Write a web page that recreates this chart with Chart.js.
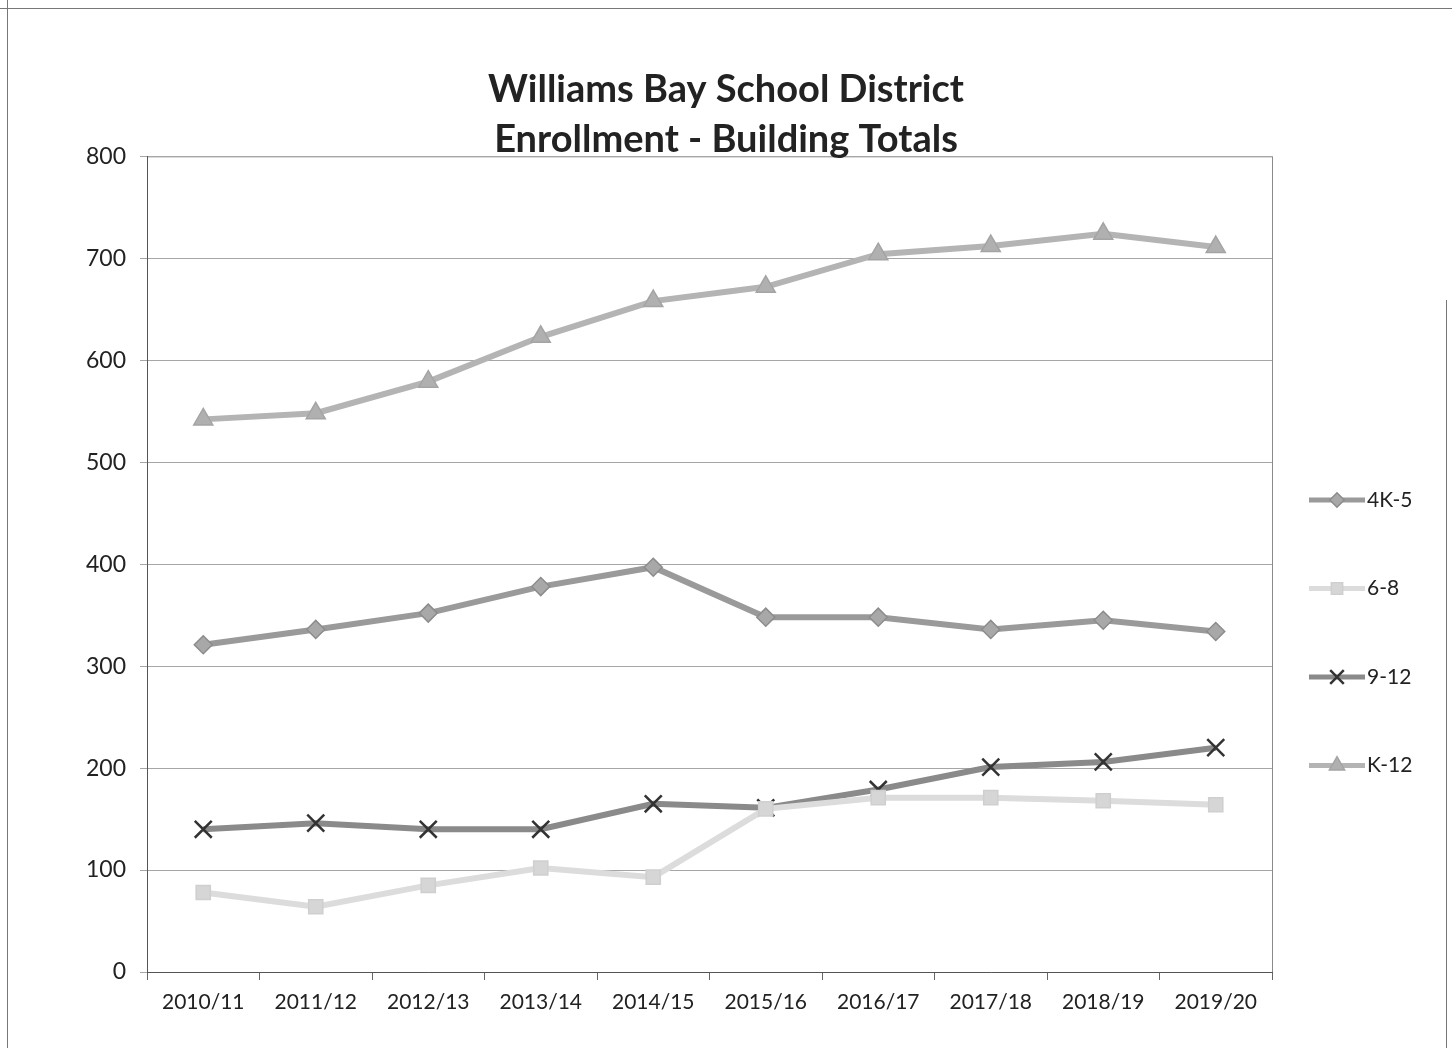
<!DOCTYPE html>
<html>
<head>
<meta charset="utf-8">
<script src="https://cdn.jsdelivr.net/npm/chart.js@4.4.1/dist/chart.umd.min.js"></script>
<style>
  html, body { margin: 0; padding: 0; background: #fff; }
  #wrap { width: 1452px; height: 1048px; }
</style>
</head>
<body>
<div id="wrap"><canvas id="enroll"></canvas></div>
<script>
// school years on the x axis
let years = ['2010/11', '2011/12', '2012/13', '2013/14', '2014/15', '2015/16', '2016/17', '2017/18', '2018/19', '2019/20'];

// enrollment per building
let k5  = [321, 336, 352, 378, 397, 348, 348, 336, 345, 334];
let g68 = [78, 64, 85, 102, 93, 160, 171, 171, 168, 164];
let g912 = [140, 146, 140, 140, 165, 161, 179, 201, 206, 220];
let k12 = [542, 548, 579, 623, 658, 672, 704, 712, 724, 711];

let seriesNames = ['4K-5', '6-8', '9-12', 'K-12'];
let yTicks = [0, 100, 200, 300, 400, 500, 600, 700, 800];

let fontFace = 'Lato, "Open Sans", sans-serif';

// page frame + plot border
const framePlugin = {
  id: 'frame',
  beforeDraw(chart){
    let ctx = chart.ctx;
    ctx.save();
    ctx.strokeStyle = '#777';
    ctx.lineWidth = 1;
    ctx.beginPath();
    ctx.moveTo(0, 8.5); ctx.lineTo(chart.width, 8.5);
    ctx.moveTo(7.5, 0); ctx.lineTo(7.5, chart.height);
    ctx.moveTo(1446.5, 300); ctx.lineTo(1446.5, chart.height);
    ctx.stroke();
    let a = chart.chartArea;
    ctx.strokeStyle = '#8a8a8a';
    ctx.strokeRect(a.left + 0.5, a.top + 0.5, a.right - a.left, a.bottom - a.top);
    ctx.restore();
  }
};

// legend like the excel one: short line, marker, label
const sideLegend = {
  id: 'sideLegend',
  afterDraw(chart, args, opts){
    let ctx = chart.ctx;
    let a = chart.chartArea;
    ctx.save();
    chart.data.datasets.forEach((ds, i) => {
      let y = opts.top + i * opts.gap;
      let x0 = a.right + 37, x1 = x0 + 56;
      ctx.strokeStyle = ds.borderColor;
      ctx.lineWidth = 5;
      ctx.beginPath(); ctx.moveTo(x0, y); ctx.lineTo(x1, y); ctx.stroke();
      ctx.fillStyle = ds.pointBackgroundColor;
      ctx.strokeStyle = ds.pointBorderColor;
      ctx.lineWidth = ds.pointBorderWidth;
      Chart.helpers.drawPoint(ctx, {
        pointStyle: ds.pointStyle, radius: ds.pointRadius * 0.8, rotation: 0,
        borderWidth: ds.pointBorderWidth
      }, (x0 + x1) / 2, y);
      ctx.fillStyle = '#222';
      ctx.font = '21px ' + fontFace;
      ctx.textBaseline = 'middle';
      ctx.fillText(ds.label, x1 + 2, y);
    });
    ctx.restore();
  }
};

new Chart('enroll', {
  type: 'line',
  data: {
    labels: years,
    datasets: [
      { label: seriesNames[0], data: k5, borderColor: '#9a9a9a', borderWidth: 6,
        pointStyle: 'rectRot', pointRadius: 9, pointBackgroundColor: '#a8a8a8',
        pointBorderColor: '#8c8c8c', pointBorderWidth: 1.5 },
      { label: seriesNames[1], data: g68, borderColor: '#dcdcdc', borderWidth: 6,
        pointStyle: 'rect', pointRadius: 10, pointBackgroundColor: '#d6d6d6',
        pointBorderColor: '#cfcfcf', pointBorderWidth: 1.5 },
      { label: seriesNames[2], data: g912, borderColor: '#8a8a8a', borderWidth: 6,
        pointStyle: 'crossRot', pointRadius: 12, pointBackgroundColor: '#333',
        pointBorderColor: '#333', pointBorderWidth: 2.5 },
      { label: seriesNames[3], data: k12, borderColor: '#b4b4b4', borderWidth: 6,
        pointStyle: 'triangle', pointRadius: 11, pointBackgroundColor: '#b0b0b0',
        pointBorderColor: '#a4a4a4', pointBorderWidth: 1.5 }
    ]
  },
  options: {
    responsive: true,
    maintainAspectRatio: false,
    animation: false,
    layout: { padding: 0 },
    plugins: {
      legend: { display: false },
      tooltip: { enabled: false },
      title: {
        display: true,
        text: ['Williams Bay School District', 'Enrollment - Building Totals'],
        color: '#222',
        font: { family: fontFace, size: 38, weight: 'bold', lineHeight: 1.32 },
        padding: { top: 65, bottom: -9 }
      },
      sideLegend: { top: 500, gap: 88.5 }
    },
    scales: {
      x: {
        offset: true,
        grid: { drawOnChartArea: false, offset: true, tickLength: 8, color: '#666' },
        border: { color: '#555' },
        ticks: { color: '#222', font: { family: fontFace, size: 21 }, padding: 10, maxRotation: 0 },
        afterFit(scale){ scale.height = 76; }
      },
      y: {
        min: 0, max: 800,
        afterBuildTicks(scale){ scale.ticks = yTicks.map(v => ({ value: v })); },
        grid: { color: '#a6a6a6', tickLength: 7 },
        border: { color: '#555' },
        ticks: { color: '#222', font: { family: fontFace, size: 23 }, padding: 14 },
        afterFit(scale){ scale.width = 147; }
      },
      // empty right-hand axis that keeps room for the legend
      yRoom: {
        position: 'right',
        min: 0, max: 800,
        grid: { display: false },
        border: { display: false },
        ticks: { display: false },
        afterFit(scale){ scale.width = 180; }
      }
    }
  },
  plugins: [framePlugin, sideLegend]
});
</script>
</body>
</html>
